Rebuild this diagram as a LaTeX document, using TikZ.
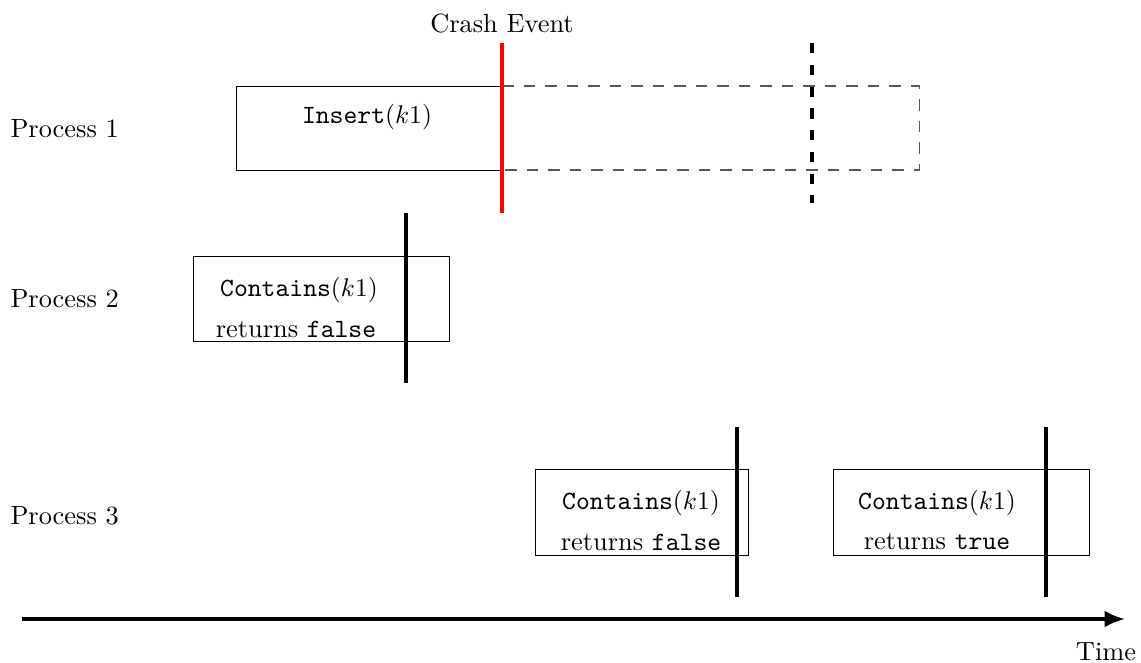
\documentclass[tikz,border=0pt]{standalone}
\usetikzlibrary{arrows.meta}
\begin{document}
\begin{tikzpicture}[x=0.3906pt,y=-0.3906pt,
  opbox/.style={draw,line width=0.35pt},
  cutline/.style={line width=1.2pt},
  lbl/.style={inner sep=0pt,anchor=center},
  every node/.style={font=\fontsize{10.3pt}{12.4pt}\selectfont}]
\useasboundingbox (0,0) rectangle (1141,662);

% process labels
\node[lbl,anchor=west] (p1) at (10,129) {Process 1};
\node[lbl,anchor=west] (p2) at (10,299) {Process 2};
\node[lbl,anchor=west] (p3) at (10,516) {Process 3};

% Process 1: insert interrupted by the crash
\coordinate (ins-tl) at (236,86);
\coordinate (ins-bl) at (236,170);
\coordinate (ins-tc) at (502,86);
\coordinate (ins-bc) at (502,170);
\coordinate (ins-tr) at (919,86);
\coordinate (ins-br) at (919,170);
\draw[line width=0.35pt] (ins-tc) -- (ins-tl) -- (ins-bl) -- (ins-bc);
\draw[black!65,line width=0.4pt,dash pattern=on 4.6pt off 3.8pt] (ins-tc) -- (ins-tr) -- (ins-br) -- (ins-bc);
\node[lbl] (ins) at (367,117) {\texttt{Insert}$(k1)$};

% crash event
\coordinate (crash-top) at (502,43);
\coordinate (crash-bot) at (502,213);
\draw[red,line width=1.5pt] (crash-top) -- (crash-bot);
\node[lbl] (crash) at (502,23) {Crash Event};
\coordinate (lin-top) at (812,43);
\coordinate (lin-bot) at (812,203);
\draw[cutline,dash pattern=on 4pt off 4.5pt] (lin-top) -- (lin-bot);

% Process 2
\node[opbox,minimum width=256*0.3906pt,minimum height=85*0.3906pt] (b2) at (321,298.5) {};
\node[lbl] (t2a) at (299,290) {\texttt{Contains}$(k1)$};
\node[lbl] (t2b) at (296,329) {returns \texttt{false}};
\coordinate (c2-top) at (406,213);
\coordinate (c2-bot) at (406,383);
\draw[cutline] (c2-top) -- (c2-bot);

% Process 3, first call
\node[opbox,minimum width=213*0.3906pt,minimum height=86*0.3906pt] (b3) at (641.5,512) {};
\node[lbl] (t3a) at (641,503) {\texttt{Contains}$(k1)$};
\node[lbl] (t3b) at (641,542) {returns \texttt{false}};
\coordinate (c3-top) at (737,427);
\coordinate (c3-bot) at (737,597);
\draw[cutline] (c3-top) -- (c3-bot);

% Process 3, second call
\node[opbox,minimum width=256*0.3906pt,minimum height=86*0.3906pt] (b4) at (961,512) {};
\node[lbl] (t4a) at (937,503) {\texttt{Contains}$(k1)$};
\node[lbl] (t4b) at (937,542) {returns \texttt{true}};
\coordinate (c4-top) at (1046,427);
\coordinate (c4-bot) at (1046,597);
\draw[cutline] (c4-top) -- (c4-bot);

% time axis
\coordinate (t0) at (22,619);
\coordinate (t1) at (1125,619);
\draw[line width=1.2pt,-{Latex[length=8pt,width=6.5pt]}] (t0) -- (t1);
\node[lbl] (time) at (1106,652) {Time};
\end{tikzpicture}
\end{document}
